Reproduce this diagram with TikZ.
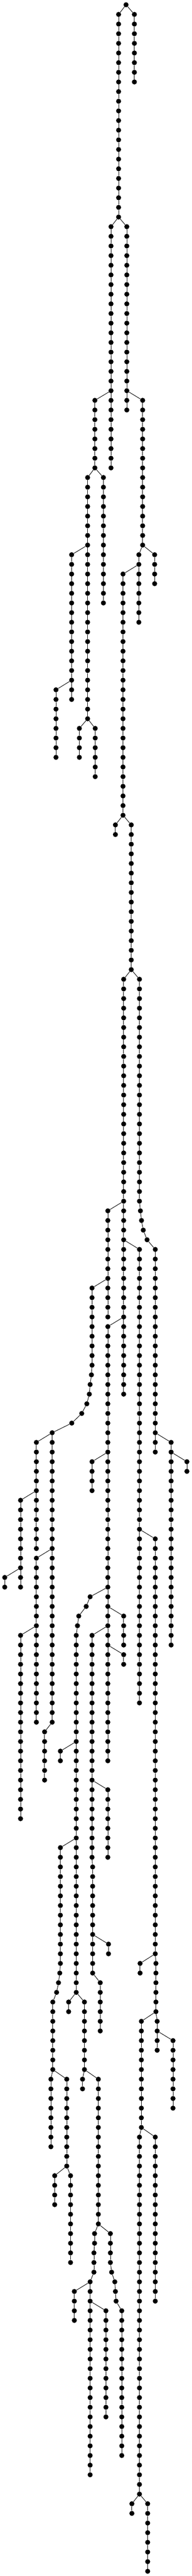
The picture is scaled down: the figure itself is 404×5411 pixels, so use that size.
\documentclass[tikz,border=0pt]{standalone}
\tikzset{
  dot/.style={circle,fill=black,draw=none,inner sep=0pt,minimum size=10.6pt},
  edge/.style={line width=1pt,black},
}
% #1 name, #2 x, #3 first row, #4 last row, #5 parent node
\newcommand\chain[5]{%
  \foreach \ci in {#3,...,#4}{\node[dot] (#1-\ci) at (#2,{-(10+\ci*20.267)}) {};}%
  \draw[edge] (#5) -- (#1-#3);%
  \ifnum#3<#4\relax
    \pgfmathtruncatemacro\chainnext{#3+1}%
    \foreach \ci [evaluate=\ci as \cp using int(\ci-1)] in {\chainnext,...,#4}{\draw[edge] (#1-\cp) -- (#1-\ci);}%
  \fi}
\begin{document}
\begin{tikzpicture}[x=1pt,y=1pt]
\fill[white] (0,0) rectangle (404,-5411);
\useasboundingbox (0,0) rectangle (404,-5411);
\node[dot] (R-0) at (265.7,-10) {};
\chain{a}{283.3}{1}{8}{R-0}
\chain{b}{250}{1}{22}{R-0}
\chain{c}{234}{23}{48}{b-22}
\chain{d}{267.3}{23}{42}{b-22}
\chain{e}{200}{41}{48}{c-40}
\chain{f}{300.7}{41}{56}{d-40}
\chain{g}{184.7}{49}{74}{e-48}
\chain{h}{218}{49}{62}{e-48}
\chain{i}{292.7}{57}{64}{f-56}
\chain{j}{326}{57}{60}{f-56}
\chain{k}{259.3}{59}{84}{i-58}
\chain{l}{151}{57}{72}{g-56}
\chain{m}{118}{71}{78}{l-70}
\chain{n}{167.3}{75}{78}{g-74}
\chain{o}{200.7}{75}{80}{g-74}
\chain{p}{243.3}{85}{86}{k-84}
\chain{q}{276.7}{85}{100}{k-84}
\chain{s}{260.7}{101}{144}{q-100}
\chain{t}{294}{101}{124}{q-100}
\chain{ta}{296}{125}{125}{t-124}
\chain{tb}{298.3}{126}{126}{ta-125}
\chain{tc}{302}{127}{127}{tb-126}
\chain{td}{310}{128}{128}{tc-127}
\chain{u}{327.3}{129}{150}{td-128}
\chain{v}{227.3}{125}{136}{s-124}
\chain{w}{294}{129}{176}{s-128}
\chain{ya}{194}{133}{141}{v-132}
\chain{yb}{192.7}{142}{142}{ya-141}
\chain{yc}{190}{143}{143}{yb-142}
\chain{yd}{188.3}{144}{144}{yc-143}
\chain{ye}{183}{145}{145}{yd-144}
\chain{yf}{172.3}{146}{146}{ye-145}
\chain{yg}{151.3}{147}{147}{yf-146}
\chain{z}{110}{148}{178}{yg-147}
\chain{A}{227.3}{137}{182}{s-136}
\chain{B}{76.7}{149}{160}{z-148}
\chain{C}{360.7}{149}{170}{u-148}
\chain{D}{394}{151}{152}{C-150}
\chain{E}{194}{151}{154}{A-150}
\chain{F}{43.3}{155}{164}{B-154}
\chain{G}{327.3}{159}{202}{w-158}
\chain{H}{76.7}{161}{178}{z-160}
\chain{I}{10}{163}{164}{F-162}
\chain{Ja}{190}{165}{165}{A-164}
\chain{Jb}{181.7}{166}{166}{Ja-165}
\chain{Jc}{166}{167}{167}{Jb-166}
\chain{Jd}{163.3}{168}{168}{Jc-167}
\chain{K}{160.7}{169}{206}{Jd-168}
\chain{L}{260.7}{167}{170}{A-166}
\chain{M}{194}{169}{192}{A-168}
\chain{N}{43.3}{169}{188}{H-168}
\chain{O}{260.7}{171}{172}{A-170}
\chain{P}{94}{179}{184}{z-178}
\chain{Q}{127.3}{181}{182}{K-180}
\chain{S}{227.3}{185}{192}{M-184}
\chain{T}{127.3}{191}{203}{K-190}
\chain{U}{195.3}{193}{204}{M-192}
\chain{V}{228.7}{201}{202}{U-200}
\chain{W}{211.3}{205}{210}{U-204}
\chain{Xa}{126}{204}{204}{T-203}
\chain{Xb}{123.3}{205}{205}{Xa-204}
\chain{Xc}{119.3}{206}{206}{Xb-205}
\chain{Y}{111.3}{207}{214}{Xc-206}
\chain{Z}{295.3}{203}{204}{G-202}
\chain{AA}{328.7}{203}{208}{G-202}
\chain{AB}{298}{209}{220}{AA-208}
\chain{AC}{331.3}{209}{212}{AA-208}
\chain{AD}{364.7}{211}{218}{AC-210}
\chain{AE}{144.7}{207}{208}{K-206}
\chain{AF}{178}{207}{214}{K-206}
\chain{AG}{107.3}{215}{222}{Y-214}
\chain{AH}{140.7}{215}{224}{Y-214}
\chain{AI}{174}{215}{216}{AF-214}
\chain{AJ}{207.3}{215}{230}{AF-214}
\chain{AK}{294}{221}{258}{AB-220}
\chain{AL}{327.3}{221}{238}{AB-220}
\chain{AM}{115.3}{225}{228}{AH-224}
\chain{AN}{148.7}{225}{234}{AH-224}
\chain{AO}{199.3}{231}{232}{AJ-230}
\chain{AOb}{198}{233}{235}{AO-232}
\chain{AP}{190}{236}{256}{AOb-235}
\chain{AQ}{156.7}{237}{240}{AP-236}
\chain{AR}{223.3}{239}{250}{AP-238}
\chain{AS}{232.7}{231}{234}{AJ-230}
\chain{ASa}{235.3}{235}{235}{AS-234}
\chain{ASb}{242}{236}{236}{ASa-235}
\chain{ASc}{243.3}{237}{237}{ASb-236}
\chain{ASd}{244.7}{238}{238}{ASc-237}
\chain{AT}{256.7}{239}{254}{ASd-238}
\chain{AU}{278}{259}{260}{AK-258}
\chain{AV}{311.3}{259}{266}{AK-258}
\end{tikzpicture}
\end{document}
